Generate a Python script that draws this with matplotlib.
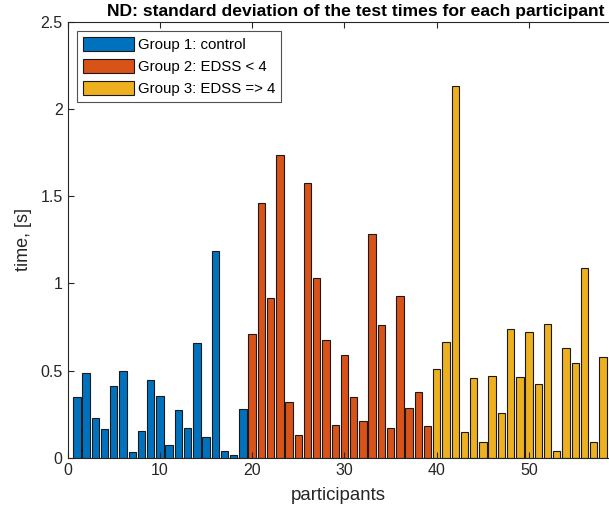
import numpy as np
import matplotlib.pyplot as plt

plt.rcParams['font.family'] = ['Liberation Sans', 'DejaVu Sans']

# std of test times per participant
g1 = [0.351, 0.486, 0.228, 0.165, 0.413, 0.500, 0.034, 0.155, 0.448, 0.357,
      0.076, 0.276, 0.169, 0.657, 0.117, 1.186, 0.042, 0.019, 0.280]
g2 = [0.709, 1.461, 0.915, 1.736, 0.321, 0.130, 1.573, 1.032, 0.673, 0.190,
      0.592, 0.350, 0.211, 1.284, 0.761, 0.169, 0.928, 0.286, 0.378, 0.182]
g3 = [0.509, 0.667, 2.129, 0.149, 0.457, 0.094, 0.467, 0.257, 0.738, 0.463,
      0.719, 0.421, 0.765, 0.038, 0.632, 0.542, 1.088, 0.090, 0.580]
labels = ['Group 1: control', 'Group 2: EDSS < 4', 'Group 3: EDSS => 4']
colors = ['#0072BD', '#D95319', '#EDB120']

fig = plt.figure(figsize=(6.09, 5.18), dpi=100)
ax = fig.add_axes([0.111, 0.116, 0.889, 0.842])

start = 1
for vals, lab, c in zip([g1, g2, g3], labels, colors):
    x = np.arange(start, start + len(vals))
    ax.bar(x, vals, width=0.8, color=c, edgecolor='#1a1a1a', linewidth=0.8, label=lab)
    start += len(vals)

ax.set_xlim(0, 58.66)
ax.set_ylim(0, 2.5)
ax.set_xticks(range(0, 51, 10))
ax.set_yticks(np.arange(0, 2.51, 0.5))
ax.set_yticklabels(['0', '0.5', '1', '1.5', '2', '2.5'])

axc = '#262626'
for s in ['left', 'bottom', 'top']:
    ax.spines[s].set_color(axc)
    ax.spines[s].set_linewidth(0.8)
ax.spines['right'].set_visible(False)
ax.tick_params(direction='in', top=True, length=4, width=0.8, colors=axc,
               labelsize=11.5, labelcolor=axc)

ax.set_xlabel('participants', fontsize=13.4, color=axc, labelpad=7)
ax.set_ylabel('time, [s]', fontsize=13, color=axc, labelpad=6)
ax.set_title('ND: standard deviation of the test times for each participant',
             fontsize=12.6, fontweight='bold', color='black', pad=4, x=0.533)

leg = ax.legend(loc='upper left', fontsize=10.8, frameon=True, fancybox=False,
                edgecolor=axc, handlelength=3.4, handleheight=1.1,
                borderaxespad=0.6, labelspacing=0.45, handletextpad=0.3,
                borderpad=0.4)
leg.get_frame().set_linewidth(0.8)

fig.savefig('out.png', dpi=100)
